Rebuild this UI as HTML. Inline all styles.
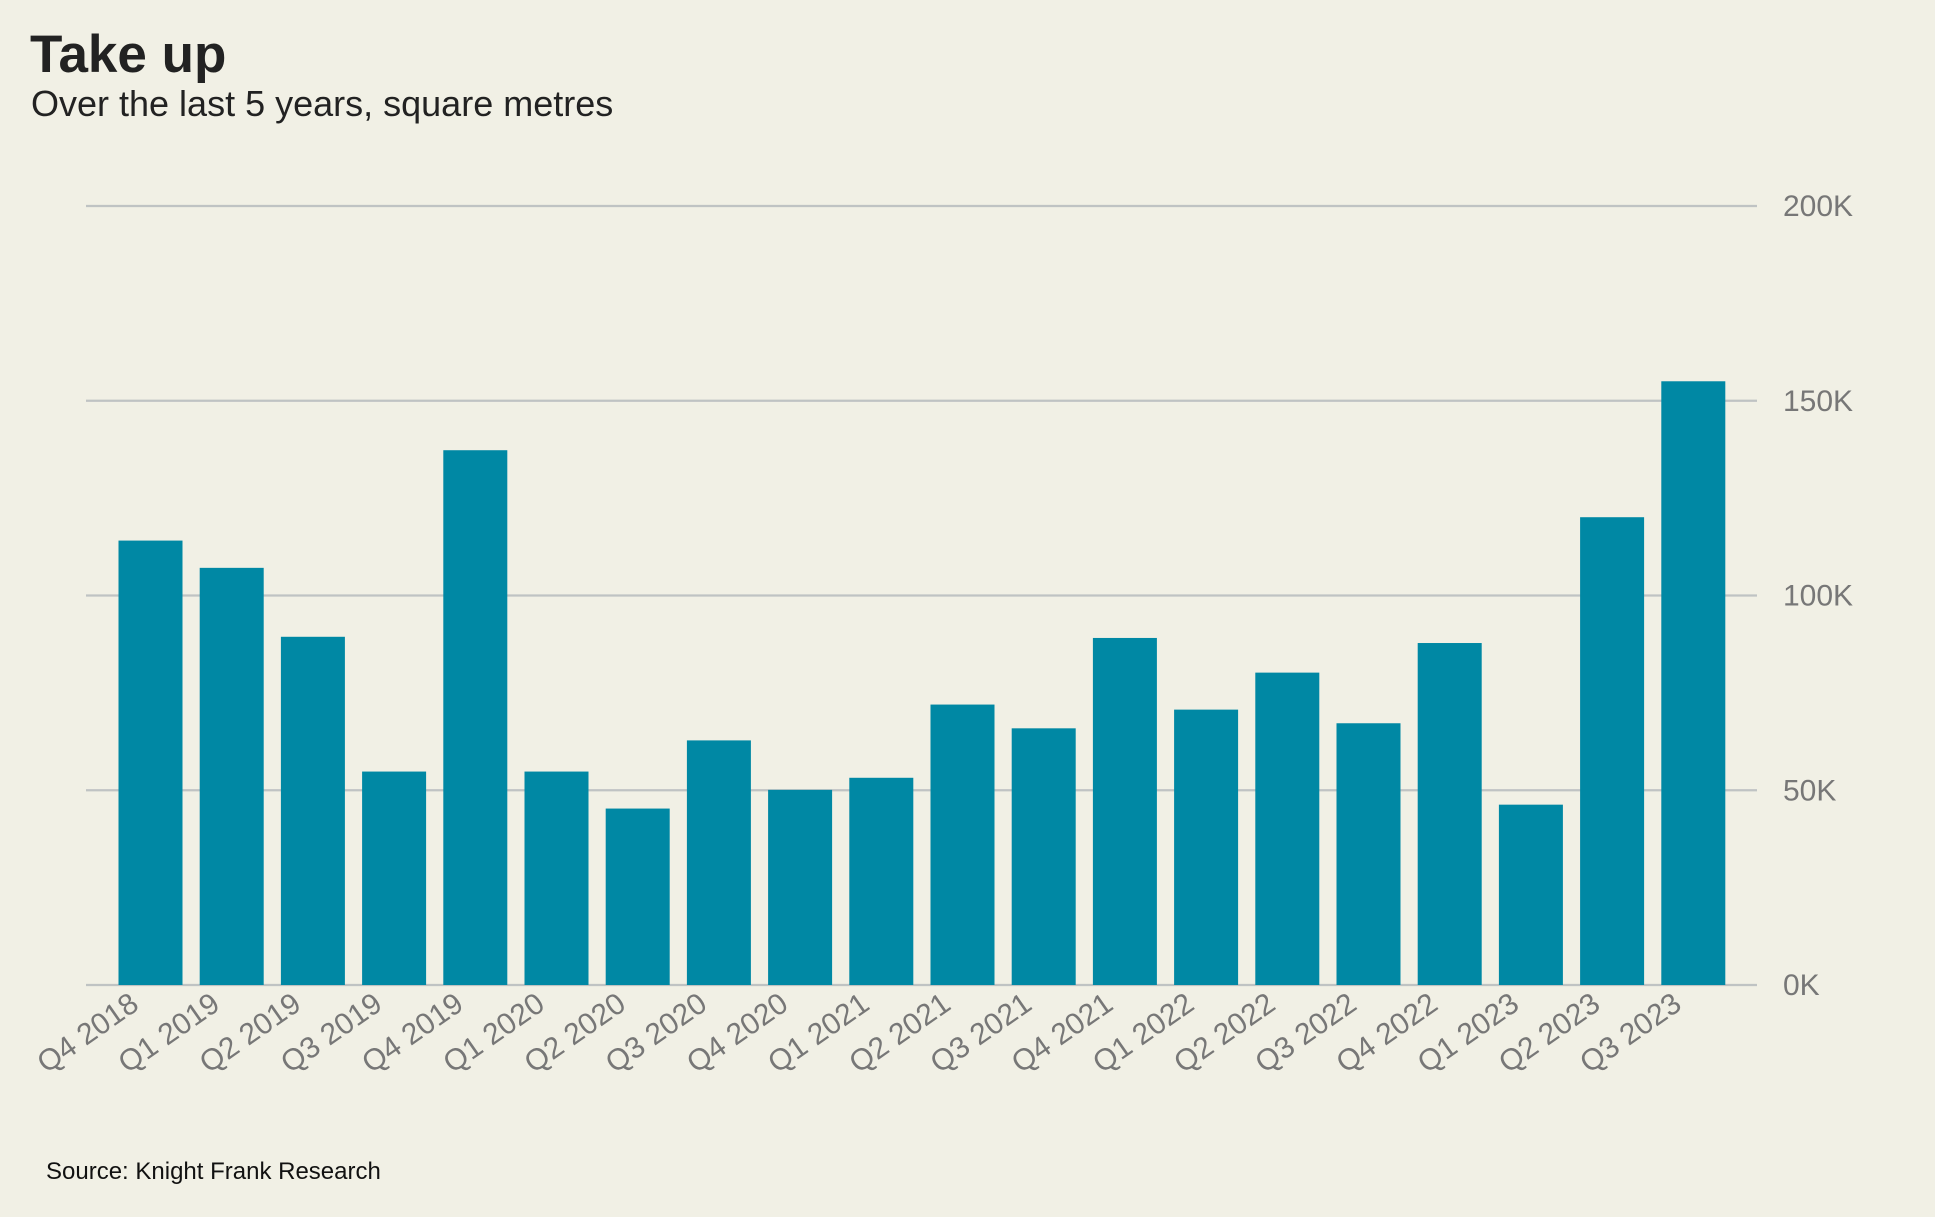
<!DOCTYPE html>
<html><head><meta charset="utf-8"><style>
html,body{margin:0;padding:0;background:#f1f0e5;}
body{width:1935px;height:1212px;overflow:hidden;font-family:"Liberation Sans",Arial,sans-serif;}
</style></head><body>
<svg width="1935" height="1212">
<rect width="1935" height="1212" fill="#f1f0e5"/>
<text x="30" y="72" font-size="53" font-weight="bold" fill="#222">Take up</text>
<text x="31" y="116" font-size="36" fill="#222">Over the last 5 years, square metres</text>
<text x="46" y="1179" font-size="24" fill="#111">Source: Knight Frank Research</text>
<g id="grid"></g><g id="bars"></g><g id="xl"></g><g id="yl"></g>
</svg>
<script>
const categories=["Q4 2018","Q1 2019","Q2 2019","Q3 2019","Q4 2019","Q1 2020","Q2 2020","Q3 2020","Q4 2020","Q1 2021","Q2 2021","Q3 2021","Q4 2021","Q1 2022","Q2 2022","Q3 2022","Q4 2022","Q1 2023","Q2 2023","Q3 2023"];
const takeUp=[114100,107100,89400,54800,137300,54800,45300,62800,50100,53200,72000,65900,89100,70700,80200,67200,87800,46300,120100,155000];
const yTicks=[0,50000,100000,150000,200000];
const yTickLabels=["0K","50K","100K","150K","200K"];
const NS="http://www.w3.org/2000/svg";
const y0=985,yTop=206,yMax=200000;
function yScale(v){return y0-(v/yMax)*(y0-yTop);}
const x0=118.5,step=81.2,bw=64;
function xScale(i){return x0+i*step;}
function mk(t,a,p){const e=document.createElementNS(NS,t);for(const k in a)e.setAttribute(k,a[k]);p.appendChild(e);return e;}
const grid=document.getElementById('grid'),bars=document.getElementById('bars'),xl=document.getElementById('xl'),yl=document.getElementById('yl');
yTicks.forEach((v,i)=>{
  const l=mk('line',{x1:86,x2:1757,y1:yScale(v),y2:yScale(v),stroke:'#bfc3c3','stroke-width':2.2},grid);
  
  
  const t=mk('text',{x:1783,y:yScale(v)+10,'font-size':30,fill:'#777'},yl);
  t.textContent=yTickLabels[i];
  
  
});
takeUp.forEach((v,i)=>{
  const r=mk('rect',{x:xScale(i),y:yScale(v),width:bw,height:y0-yScale(v),fill:'#0088a4'},bars);
  
  
});
categories.forEach((c,i)=>{
  const cx=xScale(i)+bw/2-10,cy=1008;
  const t=mk('text',{x:cx,y:cy,'font-size':30,fill:'#777','text-anchor':'end',transform:`rotate(-35 ${cx} ${cy})`},xl);
  t.textContent=c;
  
  
});
</script>
</body></html>
